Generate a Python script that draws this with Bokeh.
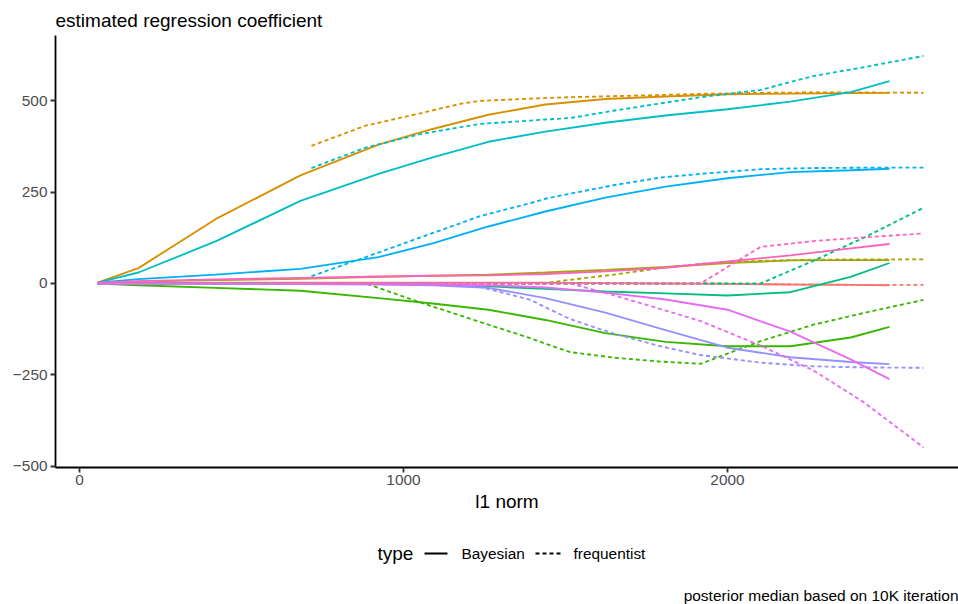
from bokeh.plotting import figure
from bokeh.layouts import column
from bokeh.models import Range1d, FixedTicker
from bokeh.core.properties import value
from bokeh.embed import file_html
from bokeh.resources import INLINE

# ---- data ----
variables = ["age", "bmi", "glu", "hdl", "ldl", "ltg", "map", "sex", "tc", "tch"]
colors = ["#F8766D", "#D89000", "#A3A500", "#39B600", "#00BF7D",
          "#00BFC4", "#00B0F6", "#9590FF", "#E76BF3", "#FF62BC"]

# Bayesian lasso (posterior median) paths
bayes_l1 = [56, 182, 420, 682, 923, 1090, 1262, 1438, 1623, 1809, 2000, 2194, 2380, 2500]
bayes_age = [0, 1, 2, 2, 2, 2, 2, 2, 1, 0, -1, -3, -4, -5]
bayes_bmi = [2, 42, 176, 296, 380, 423, 462, 490, 505, 512, 518, 520, 521, 522]
bayes_glu = [2, 5, 9, 13, 18, 21, 24, 30, 37, 45, 56, 63, 64, 64]
bayes_hdl = [0, -5, -12, -20, -40, -55, -72, -100, -136, -160, -172, -172, -148, -119]
bayes_ldl = [0, 0, 0, -1, -2, -3, -8, -15, -22, -27, -33, -24, 18, 56]
bayes_ltg = [2, 30, 115, 226, 300, 345, 388, 416, 440, 460, 477, 498, 524, 554]
bayes_map = [2, 12, 24, 40, 72, 110, 156, 197, 235, 265, 288, 305, 310, 314]
bayes_sex = [0, -1, -2, -2, -3, -5, -12, -40, -80, -128, -176, -202, -215, -221]
bayes_tc = [0, 0, 0, -1, -2, -3, -5, -11, -25, -44, -72, -132, -208, -262]
bayes_tch = [2, 6, 11, 15, 19, 21, 22, 26, 33, 43, 60, 77, 96, 108]

# frequentist lasso paths
freq_l1 = [716, 883, 1052, 1176, 1238, 1392, 1438, 1515, 1648, 1793, 1917, 2102, 2265, 2420, 2605]
freq_age = [0, 0, 0, 0, 0, 0, 0, 0, 0, 0, 0, -2, -3, -4, -4]
freq_bmi = [377, 432, 466, 492, 500, 506, 508, 510, 513, 516, 519, 522, 523, 523, 522]
freq_glu = [0, 0, 0, 0, 0, 0, 1, 10, 24, 42, 54, 62, 65, 66, 66]
freq_hdl = [0, 0, -52, -88, -106, -150, -165, -188, -203, -214, -220, -158, -113, -81, -45]
freq_ldl = [0, 0, 0, 0, 0, 0, 0, 0, 0, 0, 0, 0, 62, 125, 207]
freq_ltg = [316, 372, 409, 428, 437, 446, 449, 453, 473, 493, 510, 530, 568, 592, 623]
freq_map = [20, 72, 126, 165, 185, 220, 232, 246, 269, 290, 300, 313, 316, 317, 317]
freq_sex = [0, 0, 0, 0, -10, -45, -65, -98, -137, -172, -196, -217, -227, -230, -231]
freq_tc = [0, 0, 0, 0, 0, 0, 0, 0, -32, -70, -103, -170, -238, -325, -449]
freq_tch = [0, 0, 0, 0, 0, 0, 0, 0, 0, 0, 0, 100, 116, 126, 137]

x_ticks = [0, 1000, 2000]
y_ticks = [-500, -250, 0, 250, 500]
y_tick_labels = ["\u2212500", "\u2212250", "0", "250", "500"]

title_text = "estimated regression coefficient"
x_label = "l1 norm"
legend_title = "type"
legend_labels = ["Bayesian", "frequentist"]
caption_text = "posterior median based on 10K iteration"

bayes = dict(zip(variables, [bayes_age, bayes_bmi, bayes_glu, bayes_hdl, bayes_ldl,
                             bayes_ltg, bayes_map, bayes_sex, bayes_tc, bayes_tch]))
freq = dict(zip(variables, [freq_age, freq_bmi, freq_glu, freq_hdl, freq_ldl,
                            freq_ltg, freq_map, freq_sex, freq_tc, freq_tch]))

FONT = "Liberation Sans"
LW = 1.85
DASH = "4 3"
SMALL = "15.4px"
BIG = "19px"

p = figure(width=958, height=530, output_backend="svg", toolbar_location=None,
           x_range=Range1d(-74, 2713), y_range=Range1d(-504, 679),
           min_border_left=55, min_border_right=0, min_border_top=35, min_border_bottom=63)
p.outline_line_color = None
p.xgrid.visible = False
p.ygrid.visible = False
p.background_fill_color = "white"
p.border_fill_color = "white"

p.title.text = title_text
p.title.align = "left"
p.title.text_font = FONT
p.title.text_font_size = BIG
p.title.text_font_style = "normal"
p.title.text_color = "black"
p.title.standoff = 10
p.title.offset = 0

for ax in (p.xaxis[0], p.yaxis[0]):
    ax.axis_line_color = "black"
    ax.axis_line_width = 1.8
    ax.major_tick_line_color = "#333333"
    ax.major_tick_line_width = 1.8
    ax.major_tick_in = 0
    ax.major_tick_out = 5
    ax.minor_tick_line_color = None
    ax.major_label_text_font = FONT
    ax.major_label_text_font_size = SMALL
    ax.major_label_text_color = "#4D4D4D"

p.xaxis.ticker = FixedTicker(ticks=x_ticks)
p.yaxis.ticker = FixedTicker(ticks=y_ticks)
p.yaxis.major_label_overrides = {t: s for t, s in zip(y_ticks, y_tick_labels)}
p.xaxis.major_label_standoff = 2
p.yaxis.major_label_standoff = 3
p.xaxis.axis_label = x_label
p.xaxis.axis_label_text_font = FONT
p.xaxis.axis_label_text_font_size = BIG
p.xaxis.axis_label_text_font_style = "normal"
p.xaxis.axis_label_text_color = "black"
p.xaxis.axis_label_standoff = 3

for var, col in zip(variables, colors):
    p.line(bayes_l1, bayes[var], line_color=col, line_width=LW)
    p.line(freq_l1, freq[var], line_color=col, line_width=LW, line_dash=DASH)

# ---- legend + caption strip (coordinates = screen pixels of the page) ----
q = figure(width=958, height=74, output_backend="svg", toolbar_location=None,
           x_range=Range1d(55, 958), y_range=Range1d(604, 530),
           x_axis_type=None, y_axis_type=None,
           min_border_left=55, min_border_right=0, min_border_top=0, min_border_bottom=0)
q.outline_line_color = None
q.xgrid.visible = False
q.ygrid.visible = False
q.border_fill_color = "white"

q.text(x=[377], y=[553], text=[legend_title], text_font=value(FONT), text_font_size=BIG,
       text_baseline="middle", text_align="left", text_color="black")
q.line(x=[424, 447], y=[553, 553], line_color="black", line_width=LW)
q.text(x=[461], y=[553], text=[legend_labels[0]], text_font=value(FONT), text_font_size=SMALL,
       text_baseline="middle", text_align="left", text_color="black")
q.line(x=[535, 560], y=[553, 553], line_color="black", line_width=LW, line_dash=DASH)
q.text(x=[573], y=[553], text=[legend_labels[1]], text_font=value(FONT), text_font_size=SMALL,
       text_baseline="middle", text_align="left", text_color="black")
q.text(x=[958], y=[595], text=[caption_text], text_font=value(FONT), text_font_size="15.5px",
       text_baseline="middle", text_align="right", text_color="black")

layout = column(p, q, spacing=0)
open("out.html", "w").write(file_html(layout, INLINE))
